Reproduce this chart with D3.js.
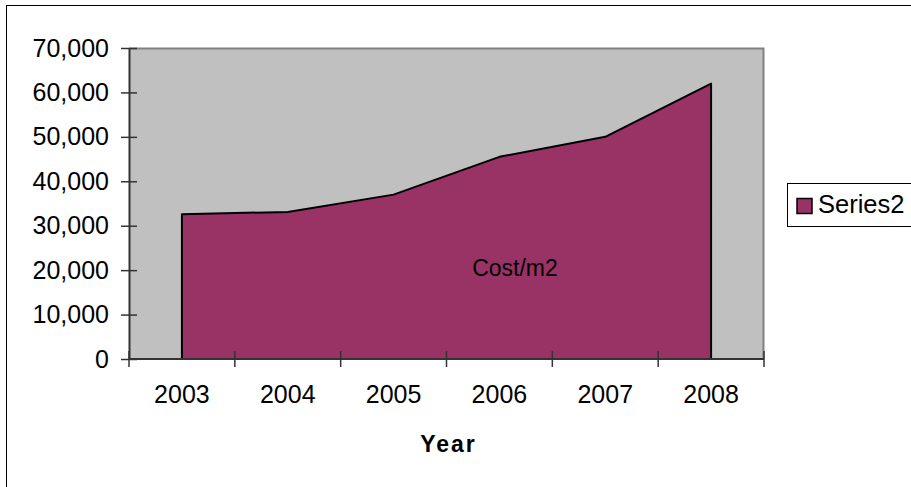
<!DOCTYPE html>
<html>
<head>
<meta charset="utf-8">
<script src="https://cdn.jsdelivr.net/npm/d3@7"></script>
<style>
  html, body { margin: 0; padding: 0; background: #fff; }
  svg { display: block; font-family: "Liberation Sans", Arial, sans-serif; }
</style>
</head>
<body>
<svg id="chart" width="911" height="487"></svg>
<script>
// Construction cost per square metre, by year
const years = ["2003", "2004", "2005", "2006", "2007", "2008"];
const costs = [32600, 33100, 37000, 45500, 50000, 62000];
const yTicks = [0, 10000, 20000, 30000, 40000, 50000, 60000, 70000];
const seriesName = "Series2";
const areaLabel = "Cost/m2";
const xTitle = "Year";

const svg = d3.select("#chart");
const plot = { left: 129, top: 48, right: 764, bottom: 359 };
const tickFont = 25;

// Chart frame (runs past the right and bottom edges)
svg.append("rect")
  .attr("x", 6.5).attr("y", 5.5)
  .attr("width", 1000).attr("height", 1000)
  .attr("fill", "#fff").attr("stroke", "#000").attr("stroke-width", 1);

const x = d3.scaleBand().domain(years).range([plot.left, plot.right]).padding(0);
const y = d3.scaleLinear().domain([0, 70000]).range([plot.bottom, plot.top]);

// Plot background
svg.append("rect")
  .attr("x", plot.left).attr("y", plot.top)
  .attr("width", plot.right - plot.left).attr("height", plot.bottom - plot.top)
  .attr("fill", "#c0c0c0");
svg.append("path")
  .attr("d", `M${plot.left},${plot.top + 0.5}H${plot.right - 0.5}V${plot.bottom}`)
  .attr("fill", "none").attr("stroke", "#808080").attr("stroke-width", 2);

// Area series
const cx = d => x(d) + x.bandwidth() / 2;
const data = years.map((yr, i) => ({ yr, v: costs[i] }));
const area = d3.area().x(d => cx(d.yr)).y0(y(0)).y1(d => y(d.v));
svg.append("path").datum(data)
  .attr("d", area)
  .attr("fill", "#993366")
  .attr("stroke", "#000").attr("stroke-width", 2).attr("stroke-linejoin", "round");

svg.append("text")
  .attr("x", 515).attr("y", 276)
  .attr("text-anchor", "middle")
  .attr("font-size", 23).attr("fill", "#000")
  .text(areaLabel);

// Y axis
const yAxis = d3.axisLeft(y).tickValues(yTicks)
  .tickFormat(d3.format(",")).tickSizeInner(8).tickSizeOuter(0).tickPadding(12);
const gy = svg.append("g").attr("transform", `translate(${plot.left},0)`).call(yAxis);
gy.select(".domain").attr("stroke", "#333").attr("stroke-width", 2);
gy.selectAll(".tick line").attr("stroke", "#333").attr("x2", -8).attr("x1", 8).attr("stroke-width", 1.5);
gy.selectAll(".tick text").attr("font-size", tickFont).attr("fill", "#000")
  .attr("font-family", "Liberation Sans, Arial, sans-serif");

// X axis with ticks at category boundaries
const gx = svg.append("g").attr("transform", `translate(0,${plot.bottom})`);
gx.append("line").attr("x1", plot.left).attr("x2", plot.right)
  .attr("stroke", "#333").attr("stroke-width", 2);
const bounds = years.map(d => x(d)).concat([x(years[years.length - 1]) + x.bandwidth()]);
gx.selectAll(".bt").data(bounds).join("line")
  .attr("x1", d => d).attr("x2", d => d)
  .attr("y1", -8).attr("y2", 8)
  .attr("stroke", "#333").attr("stroke-width", 1.5);
gx.selectAll(".lbl").data(years).join("text")
  .attr("x", d => cx(d)).attr("y", 44)
  .attr("text-anchor", "middle").attr("font-size", tickFont).attr("fill", "#000")
  .text(d => d);

svg.append("text")
  .attr("x", (plot.left + plot.right) / 2 + 2).attr("y", 452)
  .attr("text-anchor", "middle").attr("font-size", 23).attr("font-weight", "bold")
  .attr("letter-spacing", 2).attr("fill", "#000")
  .text(xTitle);

// Legend
const lg = svg.append("g");
lg.append("rect").attr("x", 787.5).attr("y", 183.5).attr("width", 200).attr("height", 43)
  .attr("fill", "#fff").attr("stroke", "#000").attr("stroke-width", 1);
lg.append("rect").attr("x", 797).attr("y", 198.5).attr("width", 15).attr("height", 15)
  .attr("fill", "#993366").attr("stroke", "#000").attr("stroke-width", 1.5);
lg.append("text").attr("x", 818).attr("y", 213).attr("font-size", 25.5).attr("fill", "#000")
  .text(seriesName);
</script>
</body>
</html>
